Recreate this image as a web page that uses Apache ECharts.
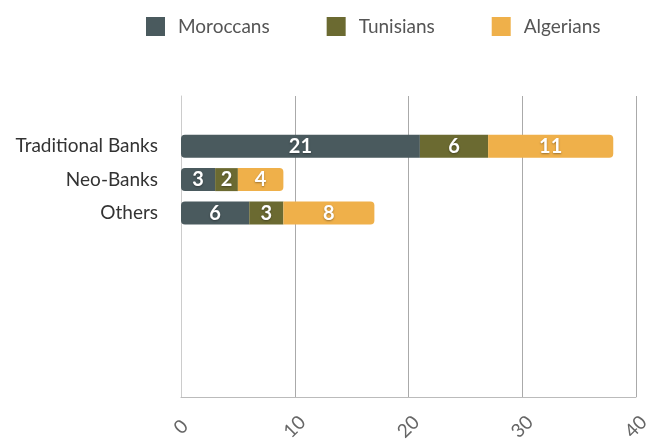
<!DOCTYPE html>
<html>
<head>
  <meta charset="UTF-8">
  <title>Banks</title>
  <script src="https://cdn.jsdelivr.net/npm/echarts@6/dist/echarts.min.js"></script>
  <style>
    html, body { margin: 0; padding: 0; background: #fff; }
    #main { width: 646px; height: 442px; }
  </style>
</head>
<body>
<div id="main"></div>
<script>
  // categories (blank ones keep the empty room below the bars)
  let categories = ['', 'Traditional Banks', 'Neo-Banks', 'Others', '', '', '', '', ''];
  let moroccans = [null, 21, 3, 6, null, null, null, null, null];
  let tunisians = [null, 6, 2, 3, null, null, null, null, null];
  let algerians = [null, 11, 4, 8, null, null, null, null, null];
  let xTicks = [0, 10, 20, 30, 40];

  let myChart = echarts.init(document.getElementById('main'), null, {renderer: 'canvas'});

  let barLabel = {
    show: true,
    color: '#fff',
    fontFamily: 'Lato',
    fontWeight: 'bold',
    fontSize: 20,
    textShadowColor: 'rgba(0,0,0,0.35)',
    textShadowBlur: 2,
    textShadowOffsetY: 1
  };

  let option = {
    animation: false,
    color: ['#4a5a5e', '#6b6a31', '#efb04a'],
    legend: {
      top: 12,
      left: 141,
      itemGap: 57,
      itemWidth: 19,
      itemHeight: 19,
      icon: 'rect',
      textStyle: {fontFamily: 'Lato', fontSize: 19, color: '#555', padding: [0, 0, 0, 8]},
      data: ['Moroccans', 'Tunisians', 'Algerians']
    },
    grid: {left: 181, right: 10, top: 96, bottom: 45, containLabel: false, outerBoundsMode: 'none'},
    xAxis: {
      type: 'value',
      min: xTicks[0],
      max: xTicks[xTicks.length - 1],
      interval: 10,
      axisLine: {show: true, lineStyle: {color: '#bbb'}},
      axisTick: {show: false},
      splitLine: {show: true, lineStyle: {color: '#aaa'}},
      axisLabel: {
        rotate: 45,
        margin: 30,
        align: 'center',
        verticalAlign: 'middle',
        color: '#666',
        fontFamily: 'Lato',
        fontSize: 19
      }
    },
    yAxis: {
      type: 'category',
      inverse: true,
      data: categories,
      axisLine: {show: true, lineStyle: {color: '#ccc'}},
      axisTick: {show: false},
      axisLabel: {color: '#333', fontFamily: 'Lato', fontSize: 19, margin: 23}
    },
    series: [{
      name: 'Moroccans',
      type: 'bar',
      stack: 'total',
      barWidth: 23,
      itemStyle: {borderRadius: [4, 0, 0, 4]},
      label: barLabel,
      data: moroccans
    }, {
      name: 'Tunisians',
      type: 'bar',
      stack: 'total',
      barWidth: 23,
      label: barLabel,
      data: tunisians
    }, {
      name: 'Algerians',
      type: 'bar',
      stack: 'total',
      barWidth: 23,
      itemStyle: {borderRadius: [0, 4, 4, 0]},
      label: barLabel,
      data: algerians
    }]
  };

  myChart.setOption(option);

  window.addEventListener("resize", function () {
    myChart.resize();
  });
</script>
</body>
</html>
